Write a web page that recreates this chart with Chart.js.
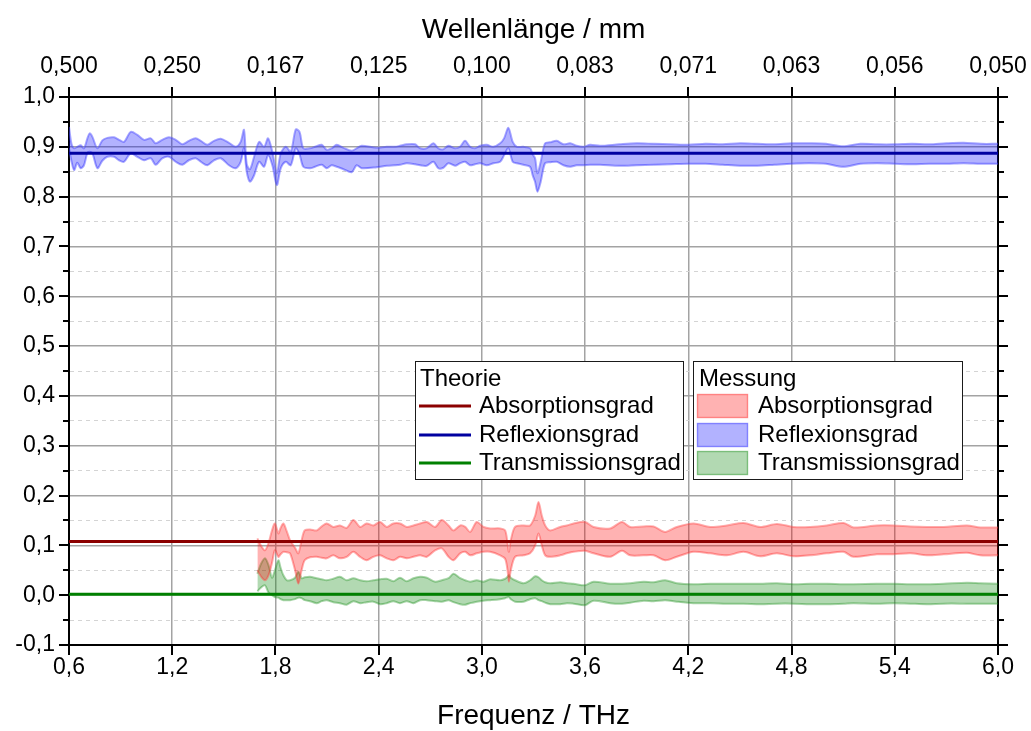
<!DOCTYPE html>
<html>
<head>
<meta charset="utf-8">
<script src="https://cdn.jsdelivr.net/npm/chart.js"></script>
<style>
  html, body { margin: 0; padding: 0; background: #fff; }
  canvas { display: block; }
</style>
</head>
<body>
<canvas id="chart" width="1031" height="731"></canvas>
<script>
// ---------- tick labels ----------
const freqTickLabels = ['0,6', '1,2', '1,8', '2,4', '3,0', '3,6', '4,2', '4,8', '5,4', '6,0'];
const wavelengthTickLabels = ['0,500', '0,250', '0,167', '0,125', '0,100', '0,083', '0,071', '0,063', '0,056', '0,050'];
const yTickLabels = ['-0,1', '0,0', '0,1', '0,2', '0,3', '0,4', '0,5', '0,6', '0,7', '0,8', '0,9', '1,0'];

// ---------- theory (constant over the whole range) ----------
const theoryFreq = [0.6, 6.0];
const theoryAbsorption = [0.108, 0.108];
const theoryReflection = [0.887, 0.887];
const theoryTransmission = [0.002, 0.002];

// ---------- measured reflection: upper / lower bound ----------
const reflFreq = [
  0.600, 0.615, 0.630, 0.648, 0.668, 0.687, 0.707, 0.720, 0.736, 0.765,
  0.794, 0.823, 0.862, 0.891, 0.920, 0.959, 0.997, 1.036, 1.075, 1.104,
  1.142, 1.181, 1.220, 1.259, 1.297, 1.336, 1.366, 1.404, 1.443, 1.482,
  1.530, 1.569, 1.598, 1.617, 1.633, 1.652, 1.676, 1.705, 1.734, 1.757,
  1.782, 1.808, 1.831, 1.860, 1.889, 1.918, 1.940, 1.962, 2.001, 2.030,
  2.069, 2.098, 2.127, 2.156, 2.195, 2.243, 2.272, 2.301, 2.389, 2.447,
  2.495, 2.524, 2.563, 2.612, 2.641, 2.679, 2.718, 2.747, 2.776, 2.805,
  2.844, 2.873, 2.902, 2.931, 2.960, 2.990, 3.028, 3.067, 3.106, 3.129,
  3.154, 3.179, 3.203, 3.241, 3.280, 3.295, 3.309, 3.323, 3.342, 3.367,
  3.396, 3.435, 3.474, 3.513, 3.551, 3.590, 3.629, 3.687, 3.8, 3.9,
  4.0, 4.1, 4.2, 4.3, 4.4, 4.5, 4.6, 4.7, 4.8, 4.9,
  5.0, 5.1, 5.2, 5.3, 5.4, 5.5, 5.6, 5.7, 5.8, 5.9, 6.0
];
const reflUpper = [
  0.940, 0.905, 0.897, 0.900, 0.903, 0.897, 0.917, 0.927, 0.920, 0.897,
  0.913, 0.918, 0.919, 0.914, 0.910, 0.930, 0.924, 0.914, 0.917, 0.907,
  0.914, 0.919, 0.914, 0.905, 0.912, 0.917, 0.912, 0.904, 0.912, 0.916,
  0.908, 0.900, 0.910, 0.934, 0.865, 0.855, 0.880, 0.910, 0.900, 0.917,
  0.890, 0.847, 0.887, 0.900, 0.890, 0.935, 0.930, 0.897, 0.897, 0.900,
  0.904, 0.894, 0.897, 0.904, 0.898, 0.892, 0.897, 0.902, 0.898, 0.900,
  0.900, 0.902, 0.905, 0.905, 0.897, 0.897, 0.907, 0.897, 0.895, 0.902,
  0.897, 0.900, 0.912, 0.900, 0.897, 0.902, 0.904, 0.900, 0.907, 0.917,
  0.938, 0.910, 0.900, 0.900, 0.897, 0.885, 0.877, 0.847, 0.870, 0.907,
  0.909, 0.912, 0.905, 0.907, 0.902, 0.900, 0.904, 0.902, 0.905, 0.907,
  0.906, 0.905, 0.904, 0.906, 0.905, 0.907, 0.906, 0.905, 0.907, 0.907,
  0.906, 0.901, 0.906, 0.905, 0.905, 0.906, 0.905, 0.907, 0.908, 0.906, 0.906
];
const reflLower = [
  0.897, 0.870, 0.853, 0.868, 0.857, 0.863, 0.888, 0.890, 0.887, 0.857,
  0.872, 0.880, 0.880, 0.873, 0.870, 0.887, 0.880, 0.873, 0.877, 0.864,
  0.877, 0.880, 0.870, 0.864, 0.873, 0.877, 0.870, 0.863, 0.873, 0.877,
  0.863, 0.857, 0.870, 0.897, 0.850, 0.830, 0.843, 0.870, 0.860, 0.883,
  0.863, 0.823, 0.857, 0.870, 0.863, 0.897, 0.885, 0.860, 0.857, 0.860,
  0.864, 0.857, 0.863, 0.860, 0.855, 0.849, 0.863, 0.857, 0.859, 0.862,
  0.863, 0.864, 0.867, 0.865, 0.863, 0.862, 0.870, 0.857, 0.858, 0.867,
  0.862, 0.867, 0.870, 0.863, 0.865, 0.867, 0.863, 0.867, 0.870, 0.883,
  0.897, 0.870, 0.867, 0.864, 0.860, 0.843, 0.830, 0.810, 0.830, 0.867,
  0.869, 0.870, 0.863, 0.860, 0.863, 0.863, 0.864, 0.864, 0.862, 0.863,
  0.864, 0.865, 0.866, 0.866, 0.864, 0.862, 0.862, 0.864, 0.866, 0.867,
  0.866, 0.860, 0.866, 0.867, 0.866, 0.865, 0.866, 0.866, 0.867, 0.866, 0.866
];

// ---------- measured absorption and transmission: upper / lower bound ----------
const measFreq = [
  1.695, 1.715, 1.739, 1.760, 1.780, 1.797, 1.817, 1.830, 1.846, 1.866,
  1.885, 1.914, 1.933, 1.952, 1.970, 2.001, 2.040, 2.069, 2.098, 2.136,
  2.175, 2.214, 2.253, 2.292, 2.330, 2.369, 2.408, 2.447, 2.485, 2.524,
  2.563, 2.602, 2.641, 2.680, 2.728, 2.767, 2.806, 2.835, 2.874, 2.903,
  2.932, 2.970, 3.009, 3.048, 3.106, 3.135, 3.149, 3.157, 3.168, 3.193,
  3.242, 3.280, 3.310, 3.329, 3.348, 3.368, 3.397, 3.455, 3.494, 3.533,
  3.600, 3.649, 3.746, 3.814, 3.862, 3.940, 3.998, 4.065, 4.133, 4.230,
  4.327, 4.424, 4.521, 4.618, 4.715, 4.812, 4.908, 5.005, 5.102, 5.160,
  5.296, 5.393, 5.490, 5.587, 5.684, 5.819, 5.897, 6.000
];
const absUpper = [
  0.114, 0.100, 0.090, 0.105, 0.130, 0.144, 0.124, 0.135, 0.144, 0.128,
  0.110, 0.095, 0.084, 0.110, 0.130, 0.132, 0.130, 0.138, 0.144, 0.137,
  0.140, 0.135, 0.151, 0.137, 0.144, 0.140, 0.147, 0.137, 0.144, 0.144,
  0.137, 0.140, 0.144, 0.147, 0.137, 0.151, 0.140, 0.130, 0.140, 0.137,
  0.127, 0.147, 0.137, 0.134, 0.134, 0.130, 0.104, 0.087, 0.110, 0.137,
  0.140, 0.140, 0.160, 0.187, 0.160, 0.140, 0.130, 0.137, 0.140, 0.144,
  0.147, 0.137, 0.134, 0.147, 0.137, 0.138, 0.138, 0.127, 0.137, 0.144,
  0.137, 0.140, 0.145, 0.137, 0.143, 0.137, 0.137, 0.140, 0.145, 0.136,
  0.140, 0.140, 0.138, 0.137, 0.137, 0.140, 0.136, 0.136
];
const absLower = [
  0.050, 0.038, 0.030, 0.040, 0.065, 0.090, 0.077, 0.082, 0.087, 0.086,
  0.084, 0.050, 0.023, 0.050, 0.070, 0.076, 0.077, 0.075, 0.074, 0.080,
  0.074, 0.077, 0.087, 0.077, 0.070, 0.077, 0.080, 0.074, 0.070, 0.077,
  0.074, 0.077, 0.080, 0.077, 0.090, 0.094, 0.077, 0.070, 0.084, 0.087,
  0.080, 0.084, 0.087, 0.087, 0.080, 0.073, 0.050, 0.027, 0.050, 0.077,
  0.080, 0.084, 0.100, 0.124, 0.100, 0.080, 0.077, 0.080, 0.084, 0.087,
  0.089, 0.084, 0.077, 0.089, 0.080, 0.080, 0.080, 0.070, 0.077, 0.087,
  0.084, 0.080, 0.087, 0.078, 0.084, 0.078, 0.080, 0.084, 0.087, 0.077,
  0.082, 0.082, 0.084, 0.080, 0.082, 0.085, 0.080, 0.080
];
const transUpper = [
  0.043, 0.062, 0.074, 0.060, 0.035, 0.050, 0.070, 0.055, 0.040, 0.030,
  0.030, 0.035, 0.047, 0.034, 0.036, 0.037, 0.034, 0.032, 0.030, 0.033,
  0.037, 0.030, 0.034, 0.030, 0.028, 0.030, 0.032, 0.033, 0.028, 0.035,
  0.028, 0.034, 0.037, 0.035, 0.027, 0.030, 0.034, 0.043, 0.034, 0.030,
  0.027, 0.030, 0.027, 0.032, 0.030, 0.033, 0.037, 0.040, 0.035, 0.030,
  0.024, 0.030, 0.038, 0.036, 0.030, 0.026, 0.024, 0.026, 0.024, 0.023,
  0.020, 0.027, 0.023, 0.023, 0.024, 0.027, 0.026, 0.030, 0.024, 0.022,
  0.023, 0.023, 0.023, 0.023, 0.024, 0.022, 0.023, 0.023, 0.022, 0.022,
  0.023, 0.023, 0.022, 0.022, 0.023, 0.025, 0.024, 0.023
];
const transLower = [
  0.008, 0.015, 0.020, 0.005, 0.000, -0.004, -0.005, -0.008, -0.010, -0.010,
  -0.010, -0.008, -0.005, -0.006, -0.010, -0.012, -0.016, -0.012, -0.010, -0.014,
  -0.016, -0.019, -0.012, -0.016, -0.014, -0.013, -0.018, -0.016, -0.012, -0.016,
  -0.012, -0.016, -0.010, -0.010, -0.012, -0.013, -0.010, -0.014, -0.018, -0.019,
  -0.016, -0.013, -0.011, -0.010, -0.008, -0.006, -0.004, -0.004, -0.008, -0.013,
  -0.013, -0.008, -0.006, -0.010, -0.012, -0.015, -0.018, -0.018, -0.016, -0.017,
  -0.020, -0.011, -0.016, -0.017, -0.015, -0.011, -0.012, -0.010, -0.013, -0.016,
  -0.016, -0.017, -0.017, -0.018, -0.017, -0.017, -0.018, -0.018, -0.017, -0.016,
  -0.017, -0.016, -0.017, -0.018, -0.017, -0.017, -0.017, -0.017
];

// ---------- styling ----------
const FONT = 'Arial, "Liberation Sans", sans-serif';
Chart.defaults.font.family = FONT;
Chart.defaults.color = '#000';

const X_MIN = 0.6, X_MAX = 6.0, Y_MIN = -0.1, Y_MAX = 1.0;

const pairs = (xs, ys) => xs.map((x, i) => ({ x: x, y: ys[i] }));
const isMinorY = v => Math.round((v - Y_MIN) / 0.05) % 2 === 1;
const isEdge = (v, lo, hi) => Math.abs(v - lo) < 1e-6 || Math.abs(v - hi) < 1e-6;

// fixed axis band sizes so the plot frame sits where intended
const fixHeight = h => s => { s.height = h; s.paddingLeft = 0; s.paddingRight = 0; };
const fixWidth = w => s => { s.width = w; s.paddingTop = 0; s.paddingBottom = 0; };

function theoryLine(label, ys, color) {
  return {
    label: label, group: 'Theorie', data: pairs(theoryFreq, ys),
    borderColor: color, borderWidth: 3, pointRadius: 0, fill: false, order: 0
  };
}
function bandEdge(label, xs, ys, line, fillColor, fillTarget) {
  return {
    label: label, group: fillTarget ? 'Messung' : '', data: pairs(xs, ys),
    borderColor: line, backgroundColor: fillColor, borderWidth: 2,
    pointRadius: 0, tension: 0.3, fill: fillTarget, order: 1
  };
}

const RED_LINE = 'rgba(255, 70, 70, 0.45)', RED_FILL = 'rgba(255, 0, 0, 0.3)';
const BLUE_LINE = 'rgba(80, 80, 255, 0.5)', BLUE_FILL = 'rgba(0, 0, 255, 0.3)';
const GREEN_LINE = 'rgba(40, 150, 40, 0.4)', GREEN_FILL = 'rgba(0, 128, 0, 0.3)';

const datasets = [
  theoryLine('Absorptionsgrad', theoryAbsorption, '#8b0000'),
  theoryLine('Reflexionsgrad', theoryReflection, '#0000a0'),
  theoryLine('Transmissionsgrad', theoryTransmission, '#008000'),
  bandEdge('Absorptionsgrad', measFreq, absUpper, RED_LINE, RED_FILL, '+1'),
  bandEdge('', measFreq, absLower, RED_LINE, RED_FILL, false),
  bandEdge('Reflexionsgrad', reflFreq, reflUpper, BLUE_LINE, BLUE_FILL, '+1'),
  bandEdge('', reflFreq, reflLower, BLUE_LINE, BLUE_FILL, false),
  bandEdge('Transmissionsgrad', measFreq, transUpper, GREEN_LINE, GREEN_FILL, '+1'),
  bandEdge('', measFreq, transLower, GREEN_LINE, GREEN_FILL, false)
];

// outward tick marks on all four sides (major long, minor short)
const tickMarks = {
  id: 'tickMarks',
  afterDraw(chart) {
    const { ctx, chartArea: a, scales } = chart;
    ctx.save();
    ctx.strokeStyle = '#000';
    ctx.lineWidth = 2;
    const seg = (x1, y1, x2, y2) => { ctx.beginPath(); ctx.moveTo(x1, y1); ctx.lineTo(x2, y2); ctx.stroke(); };
    scales.x.ticks.forEach(t => {
      const p = Math.round(scales.x.getPixelForValue(t.value));
      seg(p, a.bottom, p, a.bottom + 10);
      seg(p, a.top, p, a.top - 10);
    });
    scales.y.ticks.forEach(t => {
      const p = Math.round(scales.y.getPixelForValue(t.value));
      const len = isMinorY(t.value) ? 6 : 10;
      seg(a.left, p, a.left - len, p);
      seg(a.right, p, a.right + len, p);
    });
    ctx.restore();
  }
};

// two boxed legends: "Theorie" (lines) and "Messung" (filled bands)
const groupLegends = {
  id: 'groupLegends',
  afterDraw(chart) {
    const ctx = chart.ctx;
    const ds = chart.data.datasets;
    const rows = [406, 435, 463];
    ctx.save();
    const frame = (x, y, w, h) => {
      ctx.fillStyle = '#fff';
      ctx.fillRect(x, y, w, h);
      ctx.strokeStyle = '#1a1a1a';
      ctx.lineWidth = 1;
      ctx.strokeRect(x + 0.5, y + 0.5, w, h);
    };
    ctx.font = '24px ' + FONT;
    ctx.textBaseline = 'middle';

    frame(415, 361, 268, 118);
    ctx.fillStyle = '#000';
    ctx.fillText('Theorie', 420, 379);
    ds.filter(d => d.group === 'Theorie').forEach((d, k) => {
      ctx.strokeStyle = d.borderColor;
      ctx.lineWidth = 3;
      ctx.beginPath(); ctx.moveTo(419, rows[k]); ctx.lineTo(471, rows[k]); ctx.stroke();
      ctx.fillStyle = '#000';
      ctx.fillText(d.label, 479, rows[k]);
    });

    frame(693, 361, 269, 118);
    ctx.fillStyle = '#000';
    ctx.fillText('Messung', 699, 379);
    ds.filter(d => d.group === 'Messung').forEach((d, k) => {
      ctx.fillStyle = d.backgroundColor;
      ctx.fillRect(697, rows[k] - 12, 51, 24);
      ctx.strokeStyle = d.borderColor;
      ctx.lineWidth = 1.5;
      ctx.strokeRect(697.5, rows[k] - 11.5, 50, 23);
      ctx.fillStyle = '#000';
      ctx.fillText(d.label, 758, rows[k]);
    });
    ctx.restore();
  }
};

const gridGray = '#a3a3a3';

new Chart(document.getElementById('chart'), {
  type: 'line',
  data: { datasets: datasets },
  plugins: [tickMarks, groupLegends],
  options: {
    responsive: false,
    animation: false,
    events: [],
    layout: { padding: 0 },
    plugins: { legend: { display: false }, tooltip: { enabled: false } },
    scales: {
      x: {
        type: 'linear', position: 'bottom', min: X_MIN, max: X_MAX,
        afterFit: fixHeight(86),
        ticks: {
          stepSize: 0.6, autoSkip: false, maxRotation: 0, padding: 9,
          font: { size: 23 },
          callback: v => freqTickLabels[Math.round((v - X_MIN) / 0.6)]
        },
        grid: {
          drawTicks: false, lineWidth: 1.5,
          color: c => (c.tick && isEdge(c.tick.value, X_MIN, X_MAX)) ? 'rgba(0,0,0,0)' : gridGray
        },
        border: { color: '#000', width: 2 },
        title: {
          display: true, text: 'Frequenz / THz',
          font: { size: 28, lineHeight: 1 }, padding: { top: 0, bottom: 1 }
        }
      },
      xTop: {
        type: 'linear', position: 'top', min: X_MIN, max: X_MAX,
        afterFit: fixHeight(97),
        ticks: {
          stepSize: 0.6, autoSkip: false, maxRotation: 0, padding: 17,
          font: { size: 23 },
          callback: v => wavelengthTickLabels[Math.round((v - X_MIN) / 0.6)]
        },
        grid: { drawOnChartArea: false, drawTicks: false },
        border: { color: '#000', width: 2 },
        title: {
          display: true, text: 'Wellenlänge / mm',
          font: { size: 28, lineHeight: 1 }, padding: { top: 16, bottom: 0 }
        }
      },
      y: {
        type: 'linear', position: 'left', min: Y_MIN, max: Y_MAX,
        afterFit: fixWidth(69),
        ticks: {
          stepSize: 0.05, autoSkip: false, padding: 14,
          font: { size: 23 },
          callback: v => isMinorY(v) ? '' : yTickLabels[Math.round((v - Y_MIN) / 0.1)]
        },
        grid: {
          drawTicks: false,
          color: c => {
            if (!c.tick) return gridGray;
            if (isEdge(c.tick.value, Y_MIN, Y_MAX)) return 'rgba(0,0,0,0)';
            return isMinorY(c.tick.value) ? '#d4d4d4' : gridGray;
          },
          lineWidth: c => (c.tick && isMinorY(c.tick.value)) ? 1 : 1.5
        },
        border: {
          color: '#000', width: 2,
          dash: c => (c.type === 'tick' && c.tick && isMinorY(c.tick.value)) ? [4, 4] : []
        }
      },
      yRight: {
        type: 'linear', position: 'right', min: Y_MIN, max: Y_MAX,
        afterFit: fixWidth(33),
        ticks: { display: false, stepSize: 0.05 },
        grid: { drawOnChartArea: false, drawTicks: false },
        border: { color: '#000', width: 2 }
      }
    }
  }
});
</script>
</body>
</html>
